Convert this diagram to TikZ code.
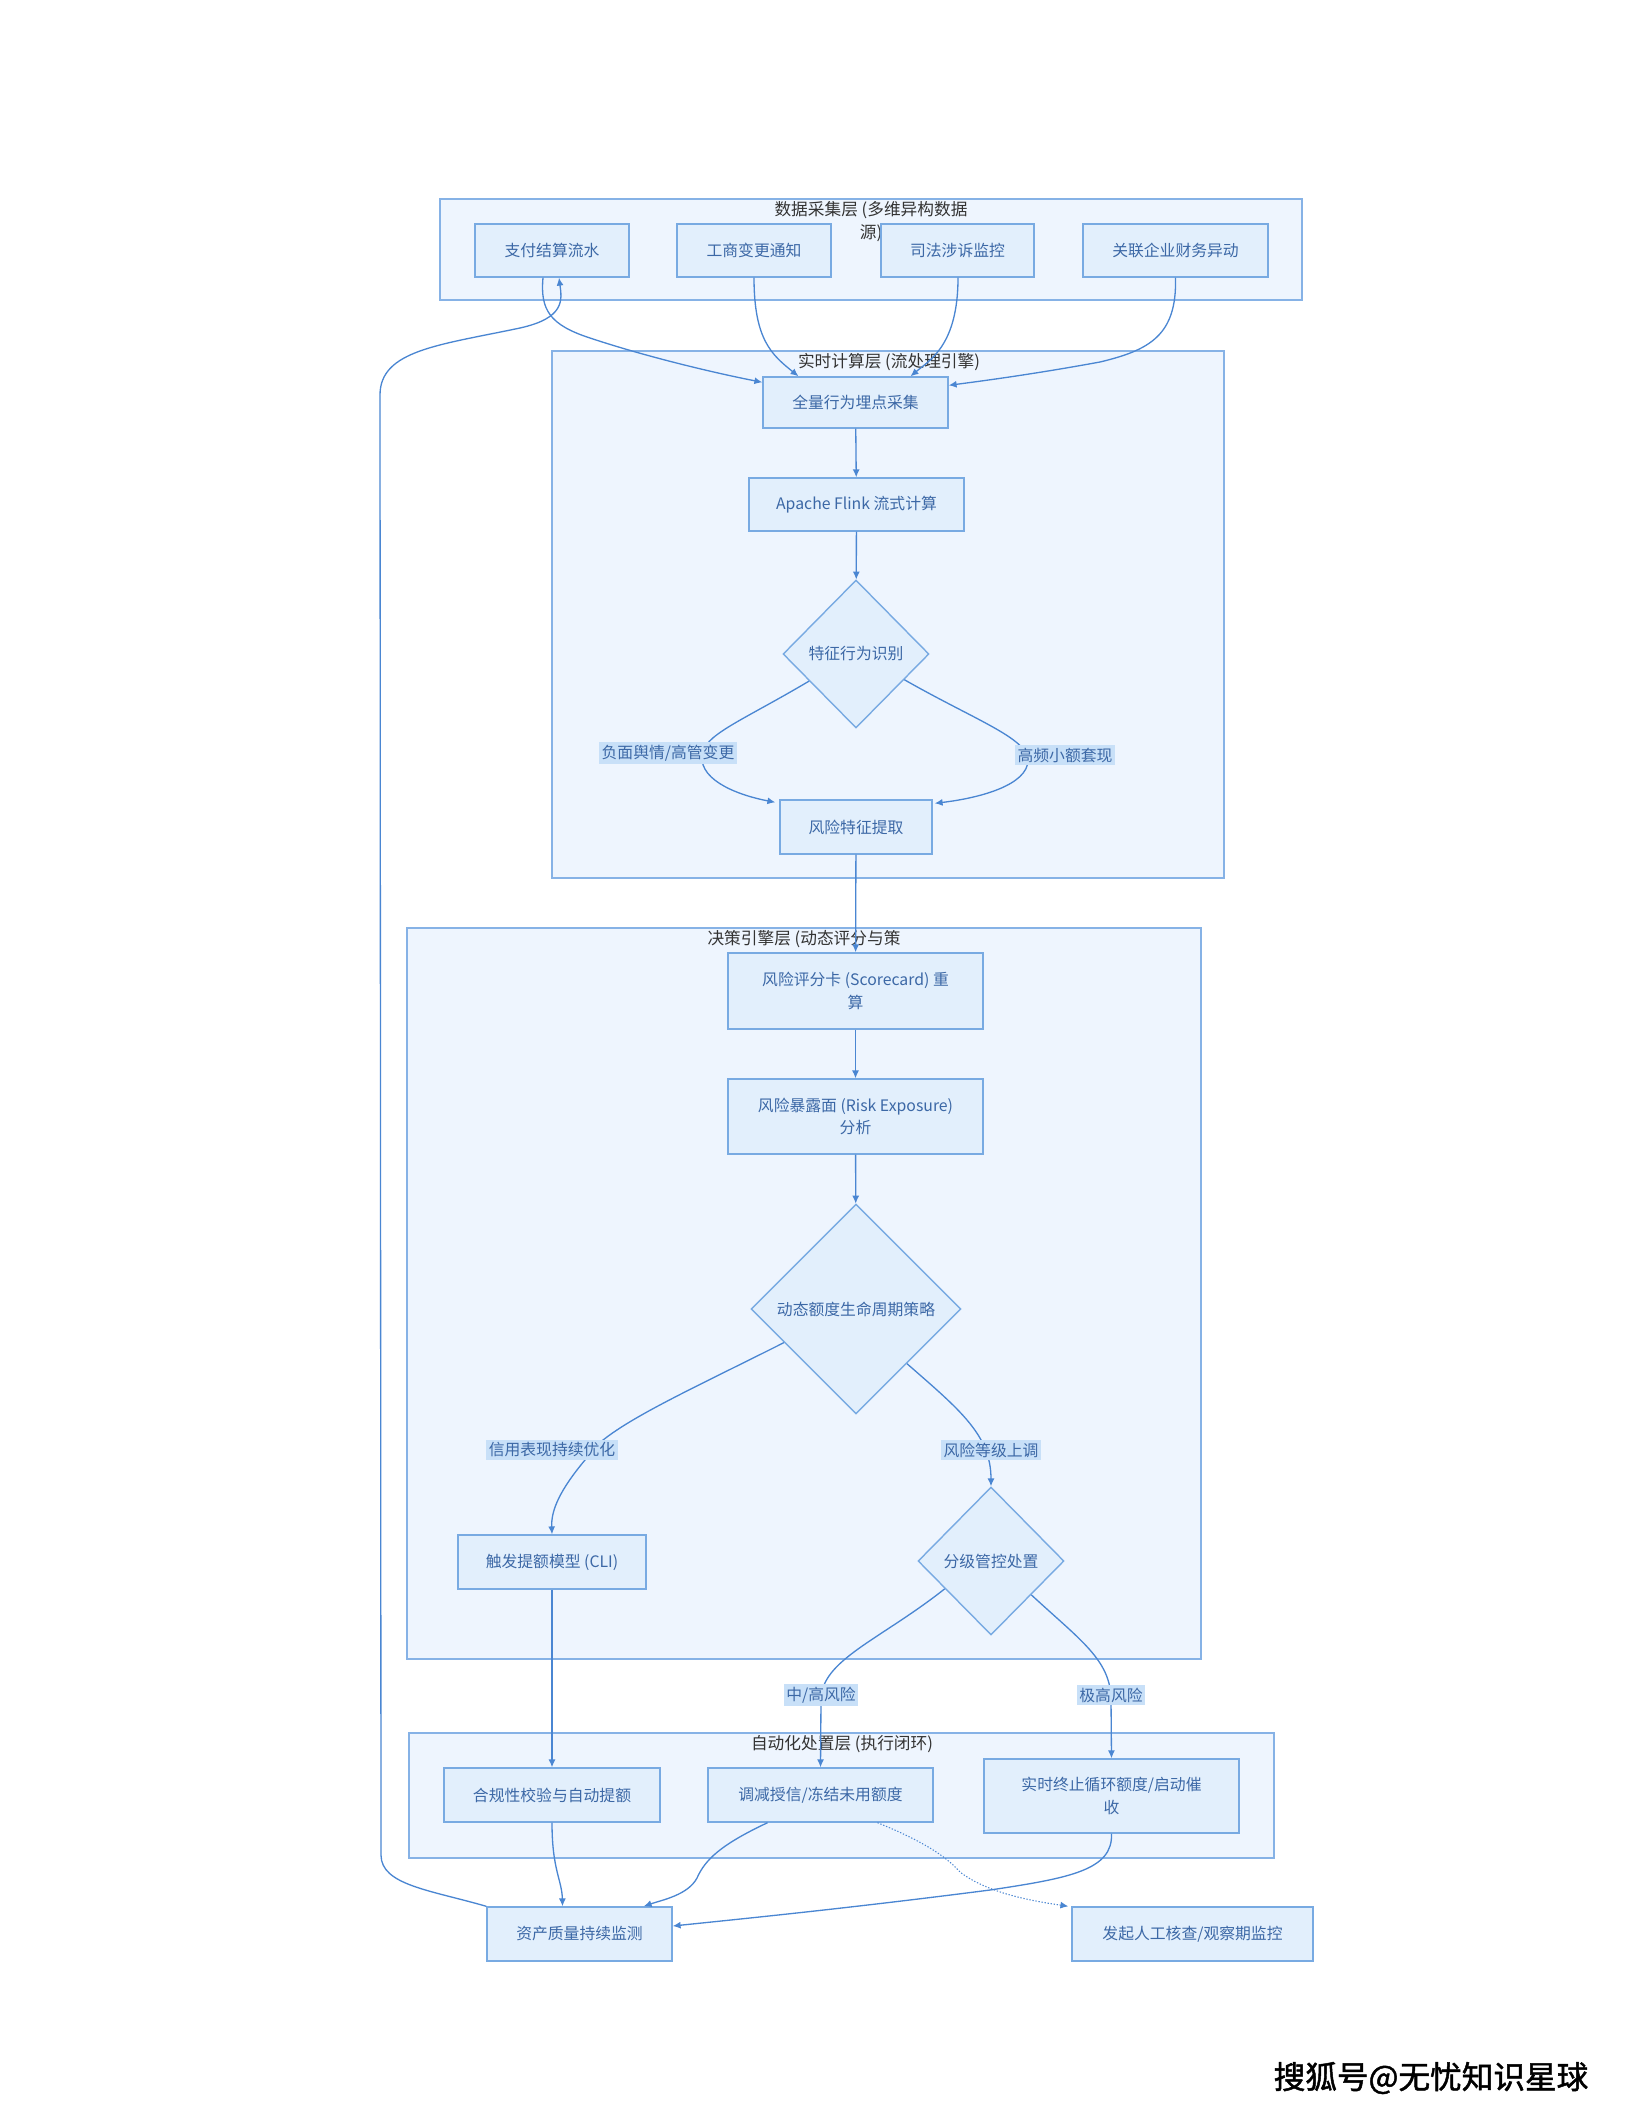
\documentclass[tikz,border=0pt]{standalone}
\usepackage{fontspec}
\setmainfont{Noto Sans CJK SC}
\newfontfamily\markfont[FakeBold=1.5]{Noto Sans CJK SC}
\usepackage{tikz}
\usetikzlibrary{calc,shapes.geometric,arrows.meta}
\definecolor{layerFill}{HTML}{EEF5FE}
\definecolor{layerLine}{HTML}{86B2E6}
\definecolor{boxFill}{HTML}{E2EFFC}
\definecolor{boxLine}{HTML}{78AAE2}
\definecolor{boxText}{HTML}{3C68A6}
\definecolor{lblFill}{HTML}{C8E0F8}
\definecolor{titText}{HTML}{333333}
\definecolor{flowLine}{HTML}{4A86D2}

\begin{document}
\begin{tikzpicture}[x=0.02cm, y=0.02cm]
\tikzstyle{layerStyle}=[shape=rectangle, draw=layerLine, fill=layerFill, line width=0.8pt, inner sep=0pt]
\tikzstyle{boxStyle}=[shape=rectangle, draw=boxLine, fill=boxFill, text=boxText, line width=0.8pt,
inner sep=0pt, align=center, font=\fontsize{9}{13}\selectfont]
\tikzstyle{decStyle}=[shape=diamond, draw=boxLine, fill=boxFill, text=boxText, line width=0.8pt,
inner sep=0pt, font=\fontsize{9}{13}\selectfont]
\tikzstyle{lblStyle}=[fill=lblFill, text=boxText, inner sep=1.5pt, font=\fontsize{9}{13}\selectfont]
\tikzstyle{titStyle}=[text=titText, inner sep=0pt, align=center, font=\fontsize{9.5}{13}\selectfont]
\tikzstyle{flowStyle}=[draw=flowLine, line width=0.75pt, -{Latex[length=4.5pt,width=4pt]}]

\fill[white] (0,0) rectangle (1632,-2112);
\useasboundingbox (0,0) rectangle (1632,-2112);

% layers
\node[layerStyle, minimum width=17.24cm, minimum height=2.02cm] (L1) at (871,-249.5) {};
\node[layerStyle, minimum width=13.44cm, minimum height=10.54cm] (L2) at (888,-614.5) {};
\node[layerStyle, minimum width=15.88cm, minimum height=14.62cm] (L3) at (804,-1293.5) {};
\node[layerStyle, minimum width=17.30cm, minimum height=2.50cm] (L4) at (841.5,-1795.5) {};

\node[titStyle, anchor=north] (T1) at (871,-201) {数据采集层 (多维异构数据\\源)};
\node[titStyle] (T2) at (889,-362) {实时计算层 (流处理引擎)};
\node[titStyle] (T3) at (804,-939) {决策引擎层 (动态评分与策};
\node[titStyle] (T4) at (842,-1744) {自动化处置层 (执行闭环)};

% sources
\foreach \n/\x/\w/\t in {zf/552/3.08cm/支付结算流水, gs/754/3.08cm/工商变更通知,
  sf/957.5/3.06cm/司法涉诉监控, gl/1175.5/3.70cm/关联企业财务异动}
{
	\node[boxStyle, minimum width=\w, minimum height=1.06cm] (\n) at (\x,-250.5) {\t};
}

% stream layer
\node[boxStyle, minimum width=3.70cm, minimum height=1.02cm] (qb) at (855.5,-402.5) {全量行为埋点采集};
\node[boxStyle, minimum width=4.30cm, minimum height=1.06cm] (fl) at (856.5,-504.5) {Apache Flink 流式计算};
\node[decStyle, minimum width=2.92cm, minimum height=2.96cm] (d1) at (856,-654) {特征行为识别};
\node[boxStyle, minimum width=3.04cm, minimum height=1.08cm] (fx) at (856,-827) {风险特征提取};

% decision layer
\node[boxStyle, minimum width=5.10cm, minimum height=1.52cm] (sc) at (855.5,-991) {风险评分卡 (Scorecard) 重\\算};
\node[boxStyle, minimum width=5.10cm, minimum height=1.50cm] (bl) at (855.5,-1116.5) {风险暴露面 (Risk Exposure)\\分析};
\node[decStyle, minimum width=4.20cm, minimum height=4.20cm] (d2) at (856,-1309) {动态额度生命周期策略};
\node[boxStyle, minimum width=3.76cm, minimum height=1.08cm] (tt) at (552,-1562) {触发提额模型 (CLI)};
\node[decStyle, minimum width=2.92cm, minimum height=2.96cm] (d3) at (991,-1561) {分级管控处置};

% action layer
\node[boxStyle, minimum width=4.32cm, minimum height=1.08cm] (hg) at (552,-1795) {合规性校验与自动提额};
\node[boxStyle, minimum width=4.50cm, minimum height=1.08cm] (tj) at (820.5,-1795) {调减授信/冻结未用额度};
\node[boxStyle, minimum width=5.10cm, minimum height=1.48cm] (zz) at (1111.5,-1796) {实时终止循环额度/启动催\\收};

\node[boxStyle, minimum width=3.70cm, minimum height=1.08cm] (zc) at (579.5,-1934) {资产质量持续监测};
\node[boxStyle, minimum width=4.82cm, minimum height=1.08cm] (rg) at (1192.5,-1934) {发起人工核查/观察期监控};

% flows into the stream layer
\draw[flowStyle] ($(zf.south)+(-9,0)$) .. controls (540,-310) and (550,-325) .. (590,-338)
  .. controls (650,-358) and (720,-374) .. ($(qb.north west)+(0,-6)$);
\draw[flowStyle] (gs.south) .. controls (754,-340) and (772,-355) .. ($(qb.north)+(-57,0)$);
\draw[flowStyle] ($(sf.south)+(0.5,0)$) .. controls (958,-345) and (930,-360) .. ($(qb.north)+(55,0)$);
\draw[flowStyle] (gl.south) .. controls (1177,-335) and (1150,-350) .. (1100,-362)
  .. controls (1040,-373) and (990,-380) .. ($(qb.north east)+(0,-9)$);

\draw[flowStyle] (qb) -- (fl);
\draw[flowStyle] (fl) -- (d1);
\draw[flowStyle] (d1.210) .. controls (740,-722) and (703,-735) .. (702,-756)
  .. controls (700,-782) and (742,-796) .. ($(fx.north west)+(-4,-3)$);
\draw[flowStyle] (d1.332) .. controls (975,-720) and (1027,-738) .. (1028,-760)
  .. controls (1028,-785) and (980,-798) .. ($(fx.north east)+(2,-4)$);
\draw[flowStyle] (fx) -- (sc);

% decision flows
\draw[flowStyle] (sc) -- (bl);
\draw[flowStyle] (bl) -- (d2);
\draw[flowStyle] (d2.205) .. controls (680,-1395) and (600,-1430) .. (585,-1460)
  .. controls (560,-1490) and (551,-1510) .. (tt.north);
\draw[flowStyle] (d2.-47) .. controls (960,-1410) and (991,-1435) .. (d3.north);
\draw[flowStyle] (d3.211) .. controls (880,-1640) and (821,-1660) .. (821,-1700) -- (tj.north);
\draw[flowStyle] (d3.-40) .. controls (1080,-1640) and (1111,-1660) .. (1111,-1700) -- (zz.north);
\draw[flowStyle] (tt) -- (hg);

% action flows
\draw[flowStyle] (hg.south) .. controls (552,-1870) and (562,-1880) .. ($(zc.north)+(-17,0)$);
\draw[flowStyle] ($(tj.south)+(-53,0)$) .. controls (720,-1845) and (705,-1860) .. (697,-1878)
  .. controls (688,-1895) and (662,-1900) .. ($(zc.north east)+(-29,0)$);
\draw[flowStyle] (zz.south) .. controls (1113,-1870) and (1070,-1878) .. (990,-1890)
  .. controls (850,-1908) and (750,-1918) .. ($(zc.east)+(0,8)$);
\draw[flowStyle, densely dotted, line width=0.6pt] ($(tj.south)+(57,0)$) .. controls (920,-1840) and (945,-1855) .. (960,-1872)
  .. controls (990,-1895) and (1040,-1902) .. ($(rg.north west)+(-3,0)$);
\draw[flowStyle] (zc.north west) .. controls (430,-1890) and (381,-1885) .. (381,-1855) -- (380,-395)
  .. controls (380,-350) and (440,-345) .. (520,-328)
  .. controls (565,-318) and (562,-300) .. ($(zf.south)+(7,0)$);

% labels
\node[lblStyle] (la) at (668,-753) {负面舆情/高管变更};
\node[lblStyle] (lb) at (1065,-755) {高频小额套现};
\node[lblStyle] (lc) at (552,-1450) {信用表现持续优化};
\node[lblStyle] (ld) at (991,-1450) {风险等级上调};
\node[lblStyle] (le) at (821,-1695) {中/高风险};
\node[lblStyle] (lf) at (1111,-1695) {极高风险};

\node[inner sep=0pt, font=\markfont\fontsize{18}{20}\selectfont] (wm) at (1431,-2078) {搜狐号@无忧知识星球};
\end{tikzpicture}
\end{document}
